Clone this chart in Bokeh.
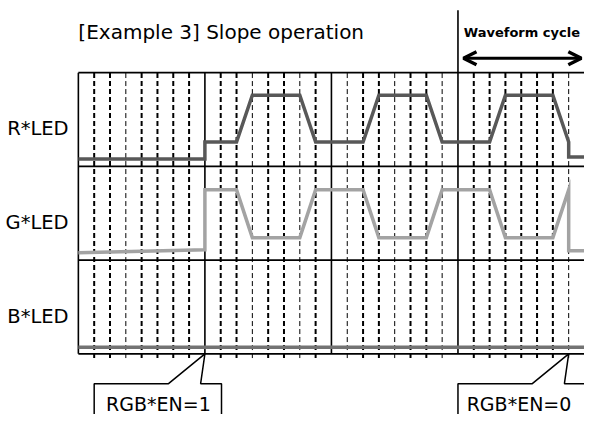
from bokeh.plotting import figure
from bokeh.models import Range1d, Arrow, OpenHead
from bokeh.core.properties import value
from bokeh.embed import file_html
from bokeh.resources import INLINE

# ---- data (time in sub-divisions, levels in % of a lane height) ----
t_pts = [0, 8, 8, 10, 11, 14, 15, 18, 19, 22, 23, 26, 27, 30, 31, 31, 32]
r_level = [8, 8, 26, 26, 76, 76, 26, 26, 76, 76, 26, 26, 76, 76, 26, 10, 10]
g_level = [8, 11, 75, 75, 24, 24, 75, 75, 24, 24, 75, 75, 24, 24, 75, 10, 10]
b_t = [0, 32]
b_level = [7, 7]
lane_names = ["R*LED", "G*LED", "B*LED"]
lane_base = [2, 1, 0]
major_t = [0, 8, 16, 24]
minor_t = [t for t in range(1, 32) if t % 8 != 0]
thin_minor = [3, 11, 14, 17, 20, 23, 31]
en_on_t = 8
en_off_t = 31
cycle_start = 24
cycle_end = 32

PX_X = 16.25   # reference pixels per sub-division
PX_Y = 97.33   # reference pixels per lane

p = figure(width=584, height=414,
           x_range=Range1d(-80 / PX_X, 520 / PX_X),
           y_range=Range1d((367 - 430) / PX_Y, 367 / PX_Y),
           min_border=0, toolbar_location=None, output_backend="svg")
p.axis.visible = False
p.grid.visible = False
p.outline_line_color = None
p.background_fill_color = "white"
p.border_fill_color = "white"

font = value("DejaVu Sans")

# dashed sub-division lines
heavy = [t for t in minor_t if t not in thin_minor]
thin = [t for t in minor_t if t in thin_minor]
p.multi_line(xs=[[t, t] for t in heavy], ys=[[-0.045, 3] for _ in heavy],
             line_color="black", line_width=2, line_dash="5 3")
p.multi_line(xs=[[t, t] for t in thin], ys=[[-0.045, 3] for _ in thin],
             line_color="black", line_width=1, line_dash="5 3")

# horizontal lane borders
p.multi_line(xs=[[0, 33] for _ in range(4)], ys=[[y, y] for y in [0, 1, 2, 3]],
             line_color="black", line_width=1.8)
# solid verticals
top_major = {0: 3, 8: 3, 16: 3, 24: (367 - 10) / PX_Y}
p.multi_line(xs=[[t, t] for t in major_t], ys=[[0, top_major[t]] for t in major_t],
             line_color="black", line_width=1.6)

# waveforms
p.line(t_pts, [2 + v / 100 for v in r_level], line_color="#585858",
       line_width=3.5, line_join="miter")
p.line(t_pts, [1 + v / 100 for v in g_level], line_color="#a3a3a3",
       line_width=3.5, line_join="miter")
p.line(b_t, [0 + v / 100 for v in b_level], line_color="#737373", line_width=3.5)

# title and lane labels
p.text(x=[0], y=[(367 - 33) / PX_Y], text=["[Example 3] Slope operation"],
       text_font=font, text_font_size="20px", text_baseline="alphabetic",
       text_align="left", text_color="black")
p.text(x=[-10 / PX_X] * 3, y=[b + 0.5 - 9.5 / PX_Y for b in lane_base], text=lane_names,
       text_font=font, text_font_size="19.5px", text_baseline="alphabetic",
       text_align="right", text_color="black")

# waveform cycle arrow
ya = (367 - 60) / PX_Y
p.add_layout(Arrow(start=OpenHead(size=13, line_width=3.5, line_color="black"),
                   end=OpenHead(size=13, line_width=3.5, line_color="black"),
                   x_start=cycle_start + 0.35, y_start=ya, x_end=cycle_end - 0.2, y_end=ya,
                   line_width=3, line_color="black"))
p.text(x=[cycle_start + 6 / PX_X], y=[(367 - 33) / PX_Y], text=["Waveform cycle"],
       text_font=font, text_font_size="13px", text_font_style="bold",
       text_baseline="alphabetic", text_align="left", text_color="black")

# callouts
ybox = (367 - 398) / PX_Y
ylow = -0.8
def callout(tip, right):
    return [tip - 7, tip - 7, tip - 2.3, tip, tip - 0.27, right, right], \
           [ylow, ybox, ybox, 0, ybox, ybox, ylow]
x1, y1 = callout(en_on_t, en_on_t + 1.05)
x2, y2 = callout(en_off_t, en_off_t + 3)
p.multi_line(xs=[x1, x2], ys=[y1, y2], line_color="black", line_width=1.5)
p.text(x=[en_on_t - 6.25, en_off_t - 6.45], y=[(367 - 419) / PX_Y] * 2,
       text=["RGB*EN=1", "RGB*EN=0"], text_font=font, text_font_size="19px",
       text_baseline="alphabetic", text_align="left", text_color="black")

open("out.html", "w").write(file_html(p, INLINE))
